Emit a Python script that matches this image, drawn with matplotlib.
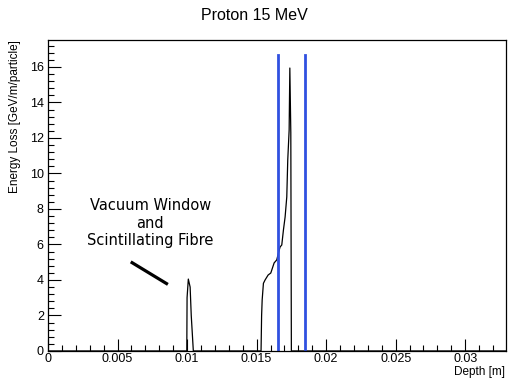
import numpy as np
import matplotlib
matplotlib.use("Agg")
import matplotlib.pyplot as plt
from matplotlib.ticker import MultipleLocator

# ── data ────────────────────────────────────────────────────────────
depth = [0.0, 0.00998, 0.01000, 0.01009, 0.01022, 0.01030, 0.01045,
         0.01532, 0.01536, 0.01540, 0.01549, 0.01561, 0.01583, 0.01602,
         0.01626, 0.01645, 0.01657, 0.01669, 0.01681, 0.01693, 0.01705,
         0.01717, 0.01724, 0.01734, 0.01739, 0.01746, 0.01750, 0.01760,
         0.0330]
eloss = [0.0, 0.0, 3.0, 4.05, 3.6, 2.0, 0.0,
         0.0, 2.0, 2.87, 3.81, 4.0, 4.28, 4.39,
         4.96, 5.13, 5.52, 5.86, 5.97, 6.82, 7.55,
         8.68, 10.76, 12.45, 15.94, 12.3, 0.0, 0.0,
         0.0]
markers_x = [0.01657, 0.01849]   # blue vertical lines
markers_top = 16.68

title = 'Proton 15 MeV'
xlabel = 'Depth [m]'
ylabel = 'Energy Loss [GeV/m/particle]'
note = 'Vacuum Window\nand\nScintillating Fibre'

plt.rcParams['font.family'] = ['Liberation Sans', 'DejaVu Sans']

fig = plt.figure(figsize=(5.08, 3.79), dpi=100)
ax = fig.add_axes([0.0945, 0.074, 0.902, 0.8205])

ax.plot(depth, eloss, color='black', linewidth=0.9)
for xm in markers_x:
    ax.plot([xm, xm], [0, markers_top], color='#3050e0', linewidth=2.0)

ax.set_xlim(0, 0.03295)
ax.set_ylim(0, 17.52)

ax.xaxis.set_major_locator(MultipleLocator(0.005))
ax.xaxis.set_minor_locator(MultipleLocator(0.001))
ax.yaxis.set_major_locator(MultipleLocator(2))
ax.yaxis.set_minor_locator(MultipleLocator(0.4))
ax.set_xticks([0, 0.005, 0.01, 0.015, 0.02, 0.025, 0.03])
ax.set_xticklabels(['0', '0.005', '0.01', '0.015', '0.02', '0.025', '0.03'])
ax.tick_params(which='major', direction='in', length=9, width=0.8,
               labelsize=9, top=False, right=False)
ax.tick_params(which='minor', direction='in', length=4.5, width=0.8,
               top=False, right=False)
ax.tick_params(axis='x', pad=1.5)
ax.tick_params(axis='y', pad=3)
for sp in ax.spines.values():
    sp.set_linewidth(0.9)

fig.text(0.030, 0.8945, ylabel, ha='center', va='top', rotation=90,
         fontsize=8.5)
fig.text(0.994, 0.018, xlabel, ha='right', va='center', fontsize=8.5)
fig.text(0.5, 0.958, title, ha='center', va='center', fontsize=11.5)

ax.text(0.00735, 7.2, note, ha='center', va='center', fontsize=10.5,
        family='DejaVu Sans', linespacing=1.2)
ax.plot([0.00595, 0.00862], [5.02, 3.75], color='black', linewidth=2.3,
        solid_capstyle='butt')

fig.savefig('out.png', dpi=100)
